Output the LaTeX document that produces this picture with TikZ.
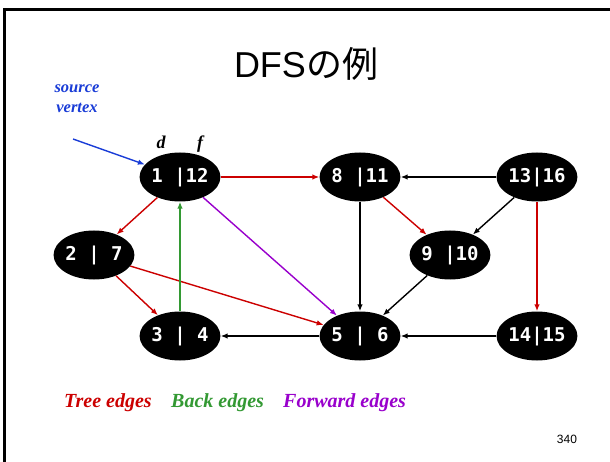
\documentclass[tikz,border=0pt]{standalone}
\usepackage{fontspec}
\setmainfont{Liberation Serif}
\newfontfamily\sansfont{Liberation Sans}
\newfontfamily\cjkfont{Noto Sans CJK JP}
\newfontfamily\numfont{DejaVu Sans Mono}
\usetikzlibrary{shapes.geometric,arrows.meta}

\definecolor{treered}{RGB}{204,0,0}
\definecolor{backgreen}{RGB}{51,153,51}
\definecolor{fwdpurple}{RGB}{153,0,204}
\definecolor{srcblue}{RGB}{25,60,215}

\begin{document}
\begin{tikzpicture}[x=1pt,y=-1pt,
  vtx/.style={ellipse, fill=black, text=white, minimum width=73pt,
    minimum height=49pt, inner sep=0pt,
    font=\numfont\bfseries\fontsize{19}{19}\selectfont},
  edge/.style={line width=1.4pt, -{Latex[length=7pt,width=5.5pt]}},
  tree/.style={edge, treered},
  back/.style={edge, backgreen},
  fwd/.style={edge, fwdpurple},
  legend/.style={anchor=base west, inner sep=0pt,
    font=\fontsize{20}{24}\selectfont\bfseries\itshape},
  dflabel/.style={anchor=base, inner sep=0pt,
    font=\fontsize{18}{20}\selectfont\bfseries\itshape}]

% page area and slide frame
\useasboundingbox (0,0) rectangle (610,462);
\fill[white] (0,0) rectangle (610,462);
\draw[line width=3pt] (4.5,462) -- (4.5,9.5) -- (610,9.5);

% title
\node[anchor=base, inner sep=0pt] (title) at (306,78)
  {\fontsize{36}{42}\selectfont\sansfont DFS\cjkfont の例};

% vertices, labelled discovery | finish
\node[vtx] (v1)  at (180,177) {1~|12};
\node[vtx] (v8)  at (360,177) {8~|11};
\node[vtx] (v13) at (537,177) {13|16};
\node[vtx] (v2)  at (94,255)  {2~|~7};
\node[vtx] (v9)  at (450,255) {9~|10};
\node[vtx] (v3)  at (180,336) {3~|~4};
\node[vtx] (v5)  at (360,336) {5~|~6};
\node[vtx] (v14) at (537,336) {14|15};

% source vertex annotation
\node[align=center, inner sep=0pt, text=srcblue, anchor=base,
  font=\fontsize{16.5}{20}\selectfont\bfseries\itshape] (src) at (77,113)
  {source\\vertex};
\coordinate (srctail) at (73,139);
\draw[srcblue, line width=1.4pt, -{Latex[length=7pt,width=5.5pt]}]
  (srctail) -- (v1);
\node[dflabel] (dlab) at (161,149) {d};
\node[dflabel] (flab) at (200,149) {f};

% tree edges
\draw[tree] (v1) -- (v8);
\draw[tree] (v1) -- (v2);
\draw[tree] (v2) -- (v3);
\draw[tree] (v2) -- (v5);
\draw[tree] (v8) -- (v9);
\draw[tree] (v13) -- (v14);

% back and forward edges
\draw[back] (v3) -- (v1);
\draw[fwd]  (v1) -- (v5);

% cross edges
\draw[edge] (v13) -- (v8);
\draw[edge] (v13) -- (v9);
\draw[edge] (v8) -- (v5);
\draw[edge] (v9) -- (v5);
\draw[edge] (v5) -- (v3);
\draw[edge] (v14) -- (v5);

% legend
\node[legend, text=treered]   (ltree) at (64,407.5)  {Tree edges};
\node[legend, text=backgreen] (lback) at (171,407.5) {Back edges};
\node[legend, text=fwdpurple] (lfwd)  at (283,407.5) {Forward edges};

% page number
\node[anchor=base, inner sep=0pt, font=\sansfont\fontsize{12}{14}\selectfont]
  (page) at (567,443) {340};
\end{tikzpicture}
\end{document}
